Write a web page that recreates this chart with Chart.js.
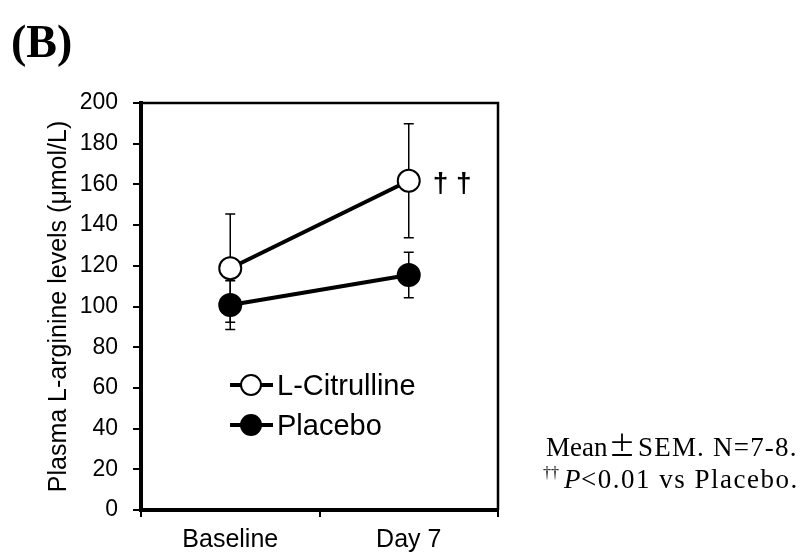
<!DOCTYPE html>
<html>
<head>
<meta charset="utf-8">
<script src="https://cdn.jsdelivr.net/npm/chart.js@4"></script>
<style>
  html, body { margin: 0; padding: 0; background: #fff; }
  #chart { display: block; }
</style>
</head>
<body>
<canvas id="chart" width="808" height="553"></canvas>
<script>
const categories = ["Baseline", "Day 7"];
const citrullineMean = [118.8, 161.8];
const citrullineSem = [26.6, 28.0];
const placeboMean = [100.7, 115.5];
const placeboSem = [12.0, 11.2];
const yMin = 0;
const yMax = 200;
const yStep = 20;

const sans = "'Liberation Sans', Arial, sans-serif";
const serif = "'Liberation Serif', 'Times New Roman', serif";

// error bars behind the markers
const errorBars = {
  id: "errorBars",
  beforeDatasetsDraw(chart) {
    const { ctx } = chart;
    const y = chart.scales.y;
    ctx.save();
    ctx.strokeStyle = "#000";
    ctx.lineWidth = 1.5;
    chart.data.datasets.forEach((ds, di) => {
      const meta = chart.getDatasetMeta(di);
      meta.data.forEach((pt, i) => {
        const top = y.getPixelForValue(ds.data[i] + ds.sem[i]);
        const bot = y.getPixelForValue(ds.data[i] - ds.sem[i]);
        ctx.beginPath();
        ctx.moveTo(pt.x, top);
        ctx.lineTo(pt.x, bot);
        ctx.moveTo(pt.x - 5, top);
        ctx.lineTo(pt.x + 5, top);
        ctx.moveTo(pt.x - 5, bot);
        ctx.lineTo(pt.x + 5, bot);
        ctx.stroke();
      });
    });
    ctx.restore();
  }
};

// frame, legend and texts
const decorations = {
  id: "decorations",
  afterDraw(chart) {
    const { ctx, chartArea } = chart;
    ctx.save();

    ctx.strokeStyle = "#000";
    ctx.lineWidth = 2.5;
    ctx.beginPath();
    ctx.moveTo(chartArea.left, chartArea.top);
    ctx.lineTo(chartArea.right, chartArea.top);
    ctx.lineTo(chartArea.right, chartArea.bottom);
    ctx.stroke();

    // legend inside the plot
    const items = [
      { label: "L-Citrulline", fill: "#fff", y: 385 },
      { label: "Placebo", fill: "#000", y: 425 }
    ];
    const lx = chartArea.left + 89;
    for (const it of items) {
      ctx.lineWidth = 4;
      ctx.strokeStyle = "#000";
      ctx.beginPath();
      ctx.moveTo(lx, it.y);
      ctx.lineTo(lx + 43, it.y);
      ctx.stroke();
      ctx.beginPath();
      ctx.arc(lx + 21, it.y, 10, 0, Math.PI * 2);
      ctx.fillStyle = it.fill;
      ctx.fill();
      ctx.lineWidth = 2;
      ctx.stroke();
      ctx.fillStyle = "#000";
      ctx.font = "29px " + sans;
      ctx.textBaseline = "alphabetic";
      ctx.textAlign = "left";
      ctx.fillText(it.label, lx + 47, it.y + 10);
    }

    // daggers next to Day 7 L-Citrulline
    const pt = chart.getDatasetMeta(0).data[1];
    ctx.font = "bold 28px " + sans;
    ctx.fillText("\u2020 \u2020", pt.x + 24, pt.y + 11);

    // panel label
    ctx.font = "bold 46px " + serif;
    ctx.fillText("(B)", 11, 57);

    // footnote
    ctx.font = "27px " + serif;
    ctx.fillText("Mean", 546, 456);
    ctx.font = "27px 'Noto Sans CJK JP', " + serif;
    ctx.textAlign = "center";
    ctx.fillText("\u00b1", 622, 456);
    ctx.textAlign = "left";
    ctx.font = "27px " + serif;
    ctx.letterSpacing = "1.2px";
    ctx.fillText("SEM. N=7-8.", 638, 456);

    ctx.letterSpacing = "0px";
    ctx.font = "16px " + serif;
    ctx.fillText("\u2020\u2020", 543, 478);
    ctx.font = "italic 27px " + serif;
    ctx.fillText("P", 564, 488);
    ctx.font = "27px " + serif;
    ctx.letterSpacing = "1.5px";
    ctx.fillText("<0.01 vs Placebo.", 581, 488);
    ctx.restore();
  }
};

new Chart(document.getElementById("chart"), {
  type: "line",
  data: {
    labels: categories,
    datasets: [
      {
        label: "L-Citrulline",
        data: citrullineMean,
        sem: citrullineSem,
        borderColor: "#000",
        borderWidth: 4,
        pointRadius: 11,
        pointHoverRadius: 11,
        pointBackgroundColor: "#fff",
        pointBorderColor: "#000",
        pointBorderWidth: 2,
        tension: 0
      },
      {
        label: "Placebo",
        data: placeboMean,
        sem: placeboSem,
        borderColor: "#000",
        borderWidth: 4,
        pointRadius: 11,
        pointHoverRadius: 11,
        pointBackgroundColor: "#000",
        pointBorderColor: "#000",
        pointBorderWidth: 2,
        tension: 0
      }
    ]
  },
  options: {
    responsive: false,
    animation: false,
    layout: { padding: { top: 103, right: 310, left: 0, bottom: 0 } },
    plugins: { legend: { display: false }, tooltip: { enabled: false } },
    scales: {
      x: {
        offset: true,
        afterFit(scale) { scale.height = 43; },
        grid: { offset: true, drawOnChartArea: false, color: "#000", lineWidth: 2, tickLength: 7 },
        border: { color: "#000", width: 4 },
        ticks: { color: "#000", font: { family: sans, size: 25 }, padding: 8 }
      },
      y: {
        min: yMin,
        max: yMax,
        afterFit(scale) { scale.width = 141; },
        grid: { drawOnChartArea: false, color: "#000", lineWidth: 2, tickLength: 8 },
        border: { color: "#000", width: 4 },
        ticks: { stepSize: yStep, color: "#000", font: { family: sans, size: 23 }, padding: 15 },
        title: {
          display: true,
          text: "Plasma L-arginine levels (\u03bcmol/L)",
          color: "#000",
          font: { family: sans, size: 25 },
          padding: { top: 44, bottom: 0 }
        }
      }
    }
  },
  plugins: [errorBars, decorations]
});
</script>
</body>
</html>
